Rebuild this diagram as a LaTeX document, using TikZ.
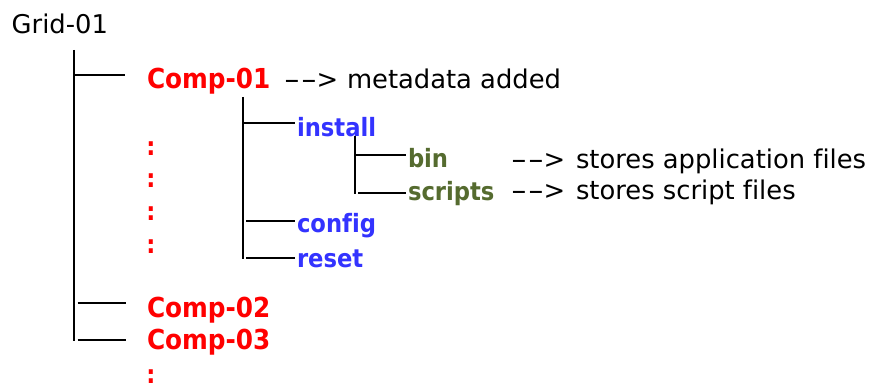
\documentclass[tikz,border=0pt]{standalone}
\usepackage{fontspec}
\setmainfont{DejaVu Sans}[Ligatures=NoCommon]
\newfontfamily\condsans{DejaVu Sans Condensed}[Ligatures=NoCommon]
\definecolor{compred}{RGB}{255,0,0}
\definecolor{dirblue}{RGB}{51,51,255}
\definecolor{filegreen}{RGB}{85,107,47}
% a wide hyphen, and the "-->" marker built from two of them
\newcommand{\widehyph}{\scalebox{1.75}[1]{-}}
\newcommand{\arrowtxt}{\kern-2.2pt\widehyph\kern0.8pt\widehyph\kern-0.5pt>}
\begin{document}
\begin{tikzpicture}[x=1pt,y=-1pt,
  tree/.style={line width=1.7pt, black},
  lbl/.style={inner sep=0pt, outer sep=0pt, anchor=base west},
  plain/.style={lbl, font=\fontsize{25.8}{30}\selectfont},
  comp/.style={lbl, text=compred, font=\condsans\bfseries\fontsize{27.5}{31}\selectfont},
  dir/.style={lbl, text=dirblue, font=\condsans\bfseries\fontsize{25.2}{29}\selectfont},
  leaf/.style={lbl, text=filegreen, font=\condsans\bfseries\fontsize{25.2}{29}\selectfont},
  more/.style={inner sep=0pt, anchor=base, text=compred, font=\condsans\bfseries\fontsize{25.2}{29}\selectfont}]
\useasboundingbox (0,0) rectangle (875,385);

% labels
\node[plain] (grid) at (11.7,33.3) {Grid-01};
\node[comp] (c1) at (147,89) {Comp-01};
\node[plain] (c1arrow) at (286,89) {\arrowtxt};
\node[plain] (c1note) at (347,89) {metadata added};
\node[dir] (install) at (297,136.7) {install};
\node[leaf] (bin) at (408,167) {bin};
\node[plain] (binarrow) at (513,168) {\arrowtxt};
\node[plain] (binnote) at (576,168) {stores application files};
\node[leaf] (scripts) at (408,200) {scripts};
\node[plain] (scriptsarrow) at (513,199) {\arrowtxt};
\node[plain] (scriptsnote) at (576,199) {stores script files};
\node[dir] (config) at (297,232) {config};
\node[dir] (reset) at (297,267) {reset};
\node[comp] (c2) at (147,317.3) {Comp-02};
\node[comp] (c3) at (147,349.3) {Comp-03};

% elided entries
\foreach \y [count=\i] in {155,187,220,253,383}
  \node[more] (gap\i) at (151,\y) {:};

% first level
\coordinate (v1top) at (74,50);
\coordinate (v1bot) at (74,340.5);
\coordinate (h1a) at (74,75);   \coordinate (h1b) at (125,75);
\coordinate (h2a) at (77.5,303); \coordinate (h2b) at (126,303);
\coordinate (h3a) at (77.5,340); \coordinate (h3b) at (126,340);
\draw[tree] (v1top) -- (v1bot);
\draw[tree] (h1a) -- (h1b);
\draw[tree] (h2a) -- (h2b);
\draw[tree] (h3a) -- (h3b);

% second level
\coordinate (v2top) at (243,97);
\coordinate (v2bot) at (243,259);
\coordinate (h4a) at (243,123);   \coordinate (h4b) at (295,123);
\coordinate (h5a) at (246,221);   \coordinate (h5b) at (295,221);
\coordinate (h6a) at (246,258);   \coordinate (h6b) at (295,258);
\draw[tree] (v2top) -- (v2bot);
\draw[tree] (h4a) -- (h4b);
\draw[tree] (h5a) -- (h5b);
\draw[tree] (h6a) -- (h6b);

% third level
\coordinate (v3top) at (355,136);
\coordinate (v3bot) at (355,193.5);
\coordinate (h7a) at (355,155);   \coordinate (h7b) at (406,155);
\coordinate (h8a) at (358,193);   \coordinate (h8b) at (406,193);
\draw[tree] (v3top) -- (v3bot);
\draw[tree] (h7a) -- (h7b);
\draw[tree] (h8a) -- (h8b);
\end{tikzpicture}
\end{document}
